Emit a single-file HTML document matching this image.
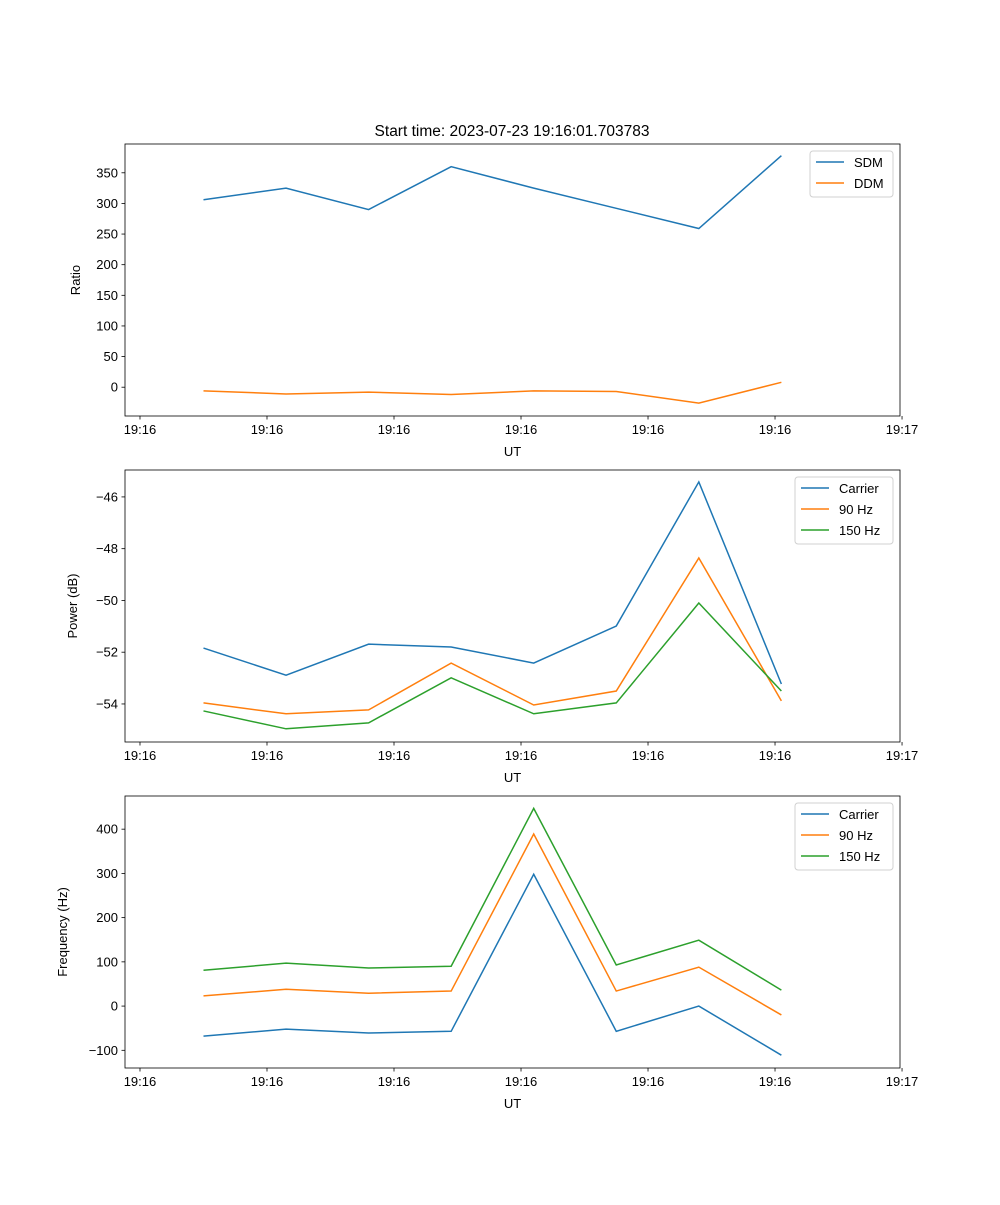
<!DOCTYPE html>
<html><head><meta charset="utf-8"><style>
body{margin:0;background:#fff}
svg{font-family:"Liberation Sans","DejaVu Sans",sans-serif}
</style></head><body>
<svg id="fig" width="1000" height="1200" viewBox="0 0 1000 1200"></svg>
<script>
const times=[0.5,1.15,1.8,2.45,3.1,3.75,4.4,5.05];
const tickVals=[0,1,2,3,4,5,6];
const tickLabels=["19:16","19:16","19:16","19:16","19:16","19:16","19:17"];
const sdm=[306,325,290,360,325,292,259,378];
const ddm=[-6,-11,-8,-12,-6,-7,-26,8];
const powCarrier=[-51.84,-52.89,-51.69,-51.8,-52.42,-50.99,-45.42,-53.23];
const pow90=[-53.96,-54.38,-54.23,-52.42,-54.04,-53.5,-48.36,-53.88];
const pow150=[-54.27,-54.96,-54.73,-52.99,-54.38,-53.96,-50.1,-53.5];
const freqCarrier=[-68,-52,-61,-57,298,-57,0,-111];
const freq90=[23,38,29,34,389,34,88,-20];
const freq150=[81,97,86,90,447,93,149,36];
const ticks1=[0,50,100,150,200,250,300,350];
const ticks2=[-54,-52,-50,-48,-46];
const ticks3=[-100,0,100,200,300,400];

const NS="http://www.w3.org/2000/svg";
const svg=document.getElementById('fig');
function mk(tag,attrs,parent){const e=document.createElementNS(NS,tag);for(const k in attrs)e.setAttribute(k,attrs[k]);(parent||svg).appendChild(e);return e;}
const L=125,R=900,xmin=-0.118,xmax=5.984;
const xs=v=>L+(v-xmin)/(xmax-xmin)*(R-L);

function panel(name,top,bot,ymin,ymax,yticks,fmt,ylabel,series,legend){
  const g=mk('g',{});
  
  
  const ys=v=>bot-(v-ymin)/(ymax-ymin)*(bot-top);
  series.forEach(s=>{
    const p=mk('polyline',{points:s.data.map((v,i)=>xs(times[i])+','+ys(v)).join(' '),fill:'none',stroke:s.color,'stroke-width':1.5},g);
    
    
  });
  const fr=mk('rect',{x:L,y:top,width:R-L,height:bot-top,fill:'none',stroke:'#000','stroke-width':0.8},g);
  
  
  tickVals.forEach((v,i)=>{
    const x=xs(v);
    mk('line',{x1:x,x2:x,y1:bot,y2:bot+3.5,stroke:'#000','stroke-width':0.8},g);
    const t=mk('text',{x:x,y:bot+18,'font-size':13,'text-anchor':'middle'},g);
    t.textContent=tickLabels[i];
    
    
  });
  yticks.forEach(v=>{
    const y=ys(v);
    mk('line',{x1:L-3.5,x2:L,y1:y,y2:y,stroke:'#000','stroke-width':0.8},g);
    const t=mk('text',{x:L-7,y:y+4.5,'font-size':13,'text-anchor':'end'},g);
    t.textContent=fmt(v);
    
    
  });
  const xl=mk('text',{x:(L+R)/2,y:bot+40,'font-size':13,'text-anchor':'middle'},g);
  xl.textContent='UT';
  
  
  const lx=legend.x, cy=(top+bot)/2;
  const yl=mk('text',{x:legend.ylx,y:cy,'font-size':13,'text-anchor':'middle',transform:'rotate(-90 '+legend.ylx+' '+cy+')'},g);
  yl.textContent=ylabel;
  
  
  const lg=mk('g',{},g);
  
  
  mk('rect',{x:lx,y:top+7,width:893-lx,height:series.length*21+4,rx:3,fill:'#fff',stroke:'#ccc','stroke-width':1,opacity:0.9},lg);
  series.forEach((s,i)=>{
    const y=top+18+i*21;
    mk('line',{x1:lx+6,x2:lx+34,y1:y,y2:y,stroke:s.color,'stroke-width':1.5},lg);
    const t=mk('text',{x:lx+44,y:y+5,'font-size':13},lg);
    t.textContent=s.label;
    
    
  });
}
const B='#1f77b4',O='#ff7f0e',G='#2ca02c';
const title=mk('text',{x:512,y:136,'font-size':15.5,'text-anchor':'middle'});
title.textContent='Start time: 2023-07-23 19:16:01.703783';


panel('ratio',144,416,-47,397,ticks1,v=>String(v),'Ratio',
  [{key:'sdm',label:'SDM',data:sdm,color:B},{key:'ddm',label:'DDM',data:ddm,color:O}],{x:810,ylx:80});
panel('power',470,742,-55.47,-44.96,ticks2,v=>'\u2212'+Math.abs(v),'Power (dB)',
  [{key:'carrier',label:'Carrier',data:powCarrier,color:B},{key:'90hz',label:'90 Hz',data:pow90,color:O},{key:'150hz',label:'150 Hz',data:pow150,color:G}],{x:795,ylx:77});
panel('frequency',796,1068,-140,475,ticks3,v=>v<0?'\u2212'+Math.abs(v):String(v),'Frequency (Hz)',
  [{key:'carrier',label:'Carrier',data:freqCarrier,color:B},{key:'90hz',label:'90 Hz',data:freq90,color:O},{key:'150hz',label:'150 Hz',data:freq150,color:G}],{x:795,ylx:67});
</script>
</body></html>
